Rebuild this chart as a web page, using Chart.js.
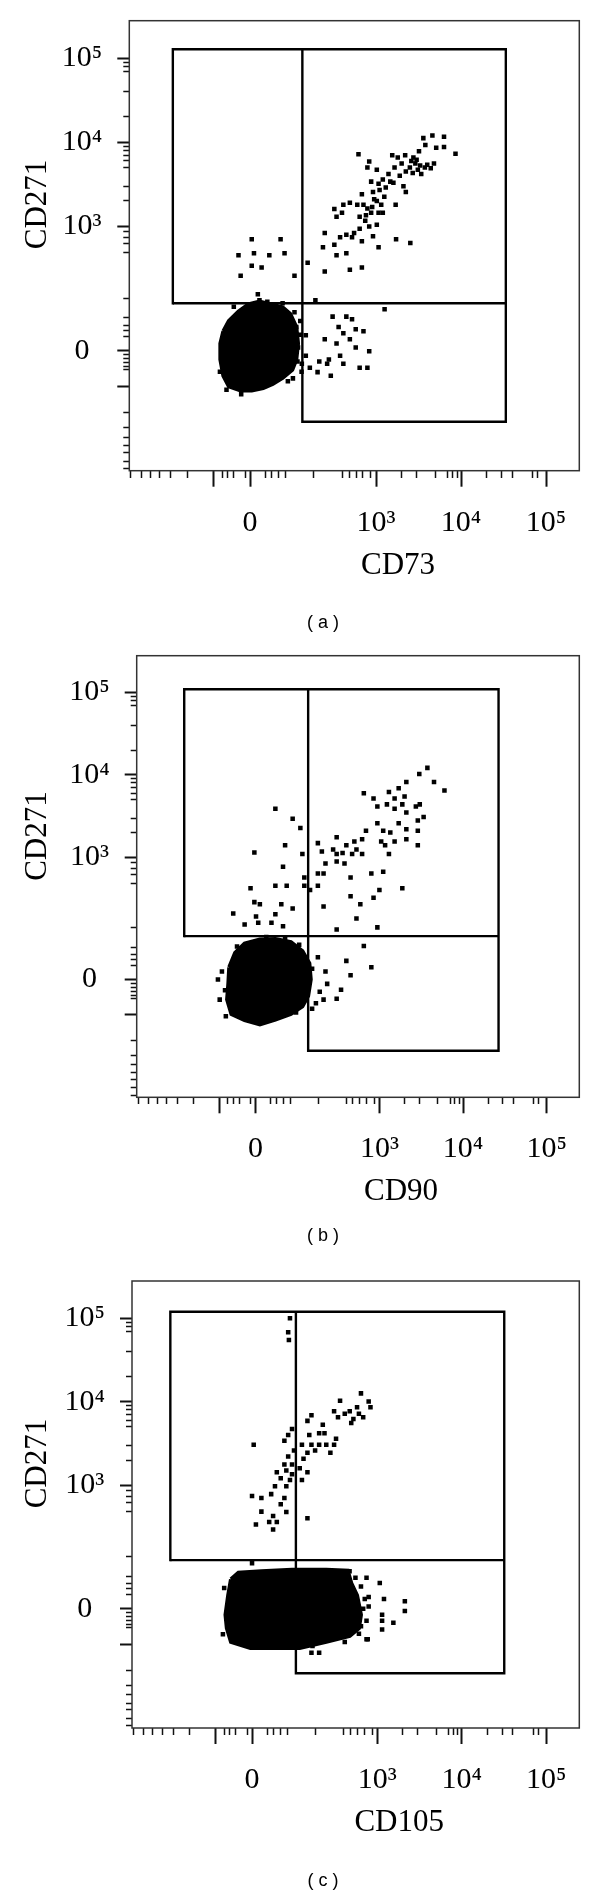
<!DOCTYPE html>
<html>
<head>
<meta charset="utf-8">
<script src="https://cdn.jsdelivr.net/npm/chart.js@4.4.1/dist/chart.umd.min.js"></script>
<style>
html,body{margin:0;padding:0;background:#fff;}
#wrap{position:relative;width:600px;height:1892px;background:#fff;}
canvas{position:absolute;left:0;}
</style>
</head>
<body>
<div id="wrap">
<canvas id="ca" width="600" height="640" style="top:0px"></canvas>
<canvas id="cb" width="600" height="620" style="top:640px"></canvas>
<canvas id="cc" width="600" height="632" style="top:1260px"></canvas>
</div>
<script>
// ---------------- axis definition (biexponential display) ----------------
const xRange = [-867, 245700];
const yRange = [-884, 280000];
const labelValues = [0, 1000, 10000, 100000];
const labelTexts = ['0', '10³', '10⁴', '10⁵'];
const xLongTicks = [-76, 0, 1000, 10000, 100000];
const xMinorTicks = [-830, -630, -490, -380, -277, -174, -55, -43, -30, -9, 28, 41, 56, 74, 180, 400, 480, 580, 700, 870, 2000, 3000, 5000, 7000, 8000, 9000, 20000, 30000, 40000, 70000, 80000];
const yLongTicks = [-76, 0, 1000, 10000, 100000];
const yMinorTicks = [-830, -677, -534, -444, -352, -269, -174, -36, -30, -22, -14, -7, 26, 39, 50, 68, 132, 485, 620, 740, 870, 2000, 3000, 5000, 6000, 7000, 8000, 9000, 20000, 40000, 70000, 80000, 90000];

// ---------------- titles ----------------
const xTitles = ['CD73', 'CD90', 'CD105'];
const yTitles = ['CD271', 'CD271', 'CD271'];
const captions = ['( a )', '( b )', '( c )'];

// ---------------- panel (a) CD73 vs CD271 ----------------
const a_events = [
[4600,12000],[6300,11600],[6300,8800],[8600,7300],[5100,8600],[3600,11200],[3800,9300],[3200,7800],[2750,6600],[2200,7000],
[1800,6600],[1550,7000],[2900,5600],[2500,5000],[2000,5600],[3750,5000],[4400,4900],[3400,4200],[2240,4500],[1900,4000],
[1650,5000],[1400,4200],[1200,3600],[1020,4700],[790,5000],[830,5900],[620,7200],[1470,3400],[2100,3000],[2240,2550],
[1700,1800],[1070,3200],[920,2550],[875,3400],[680,2400],[710,1800],[1020,2000],[1070,1450],[875,1450],[745,1160],
[600,1800],[490,1900],[410,1800],[320,1600],[340,1300],[395,1450],[830,990],[1020,1040],[1200,1450],[640,930],
[550,830],[445,790],[375,740],[680,660],[920,760],[520,740],[640,1300],[790,1630],[1070,560],[1720,700],
[2530,630],[445,475],[680,320],[490,300],[320,600],[245,830],[233,560],[245,285],[150,365],[340,450],
[2600,6000],[3000,6200],[3300,5300],[4000,5400],[4800,5600],[2700,4300],[3100,4700],[1600,3300],[1300,2900],[1100,2700],
[1250,2250],[950,2100],[1150,1800],[900,1700],[760,1350],
[3,700],[61,700],[-21,450],[7,475],[36,450],[71,475],[21,320],[-17,253],[100,253],[3,335],[14,148],[17,123],[188,123],
[305,71],[445,71],[1260,92],[360,46],[410,33],[575,41],[710,37],[490,21],[245,21],[340,13],[575,6],[830,-1],[375,-9],
[275,-16],[210,-20],[410,-24],[640,-32],[790,-32],[200,-41],[290,-49],[142,29],[142,-9],[126,-24],[160,-32],[106,46],
[112,6],[520,64],[262,-24],[-16,-99],[120,60],[125,-40],[95,-55],
[32,118],[66,112],[100,83],[-30,100],[-60,-40],[-45,-85],[80,-62],[110,-20],[118,30]
];
const a_core = [[-52,37],[-40,60],[-21,85],[-3,108],[17,118],[40,108],[66,98],[87,78],[106,46],[112,13],[106,-16],[93,-36],[66,-54],[43,-69],[24,-80],[3,-87],[-17,-87],[-40,-75],[-52,-49],[-59,-16],[-59,13],[-52,37]];
const a_gateX = [-263, 128, 33600];
const a_gateY = [-227, 112, 128000];

// ---------------- panel (b) CD90 vs CD271 ----------------
const b_events = [
[3750,12200],[3000,10300],[4500,8200],[6000,6500],[2100,8200],[1700,6900],[1300,6200],[650,6000],[850,5200],[1520,5200],
[2000,5500],[945,4150],[1230,4400],[1520,3900],[1880,4400],[2100,3500],[2730,4150],[3040,4400],[3380,3100],[2880,2800],
[2880,2100],[2880,1400],[2100,2200],[1700,2600],[1350,2000],[1110,2100],[945,2600],[1050,1560],[1520,1560],[2100,1660],
[1170,1400],[1300,1100],[690,2100],[620,1660],[500,1560],[400,1400],[305,1760],[276,1250],[360,1130],[470,1100],
[530,1250],[620,1100],[305,890],[380,840],[222,840],[210,635],[178,1490],[178,635],[200,1180],[305,1100],
[450,570],[800,635],[1110,670],[1000,400],[850,320],[1880,420],[450,335],[590,266],[530,176],[945,134],
[305,125],[178,450],[141,400],[210,250],[650,71],[400,36],[800,23],[450,8],[345,-19],[305,-37],
[38,3900],[80,2950],[104,2270],[-2,1150],[60,1400],[55,770],[111,1100],[118,570],[118,450],[38,450],[64,450],[-9,420],
[-2,283],[8,266],[51,266],[80,236],[-43,203],[1,186],[-20,146],[5,155],[30,155],[38,199],[55,139],
[178,44],[222,15],[188,-23],[168,-47],[210,-39],[233,-8],[-81,0],[-76,-39],[-70,15],[150,-60],[-60,-80],
[20,98],[60,96],[100,75],[150,20],[-35,70],[-62,-20],[90,-70]
];
const b_core = [[-52,23],[-39,54],[-20,78],[8,90],[38,92],[75,82],[111,58],[138,31],[144,0],[133,-31],[111,-54],[75,-74],[38,-90],[8,-106],[-20,-92],[-47,-74],[-57,-39],[-54,-7],[-52,23]];
const b_gateX = [-230, 133, 26600];
const b_gateY = [-237, 101, 109500];

// ---------------- panel (c) CD105 vs CD271 ----------------
const c_events = [
[81,100000],[76,68000],[78,55000],
[640,12600],[360,10300],[790,10100],[830,8600],[575,8600],[470,7700],[305,7700],[340,6500],[520,6200],[680,6500],[490,5550],
[160,6900],[142,5900],[222,5300],[322,3600],[233,4200],[150,4000],[87,4700],[76,4000],[66,3400],[3,3050],[120,3050],
[160,3050],[200,3050],[245,3050],[275,2450],[178,2600],[142,2450],[126,2080],[93,2600],[76,2200],[66,1770],[87,1770],
[112,1600],[142,1430],[71,1500],[87,1350],[48,1430],[57,1210],[81,1150],[120,1150],[71,970],[44,970],[36,780],[66,700],
[57,590],[17,700],[0,740],[17,480],[71,475],[40,425],[32,360],[48,360],[7,335],[40,290],[142,400],[410,7200],[605,7200],
[305,3050],[200,4200],
[0,107],[160,-101],[745,-62],[745,64],[1070,51],[790,22],[1200,18],[2120,14],[2120,-4],[1140,-11],[1140,-22],[1550,-26],
[1140,-40],[680,0],[790,4],[640,-33],[770,-62],
[468,81],[550,64],[640,43],[710,18],[745,-22],[605,-49],[410,-69],[165,-80],[200,-101],[-55,40],[-58,-50]
];
const c_core = [[-40,60],[-25,77],[17,81],[87,86],[245,86],[445,83],[490,51],[575,25],[640,-11],[605,-37],[470,-54],[245,-69],[112,-86],[48,-86],[-3,-86],[-40,-69],[-49,-37],[-52,-11],[-46,25],[-40,60]];
const c_gateX = [-302, 99, 31800];
const c_gateY = [-190, 118, 120000];

// ---------------- custom biexponential (asinh) scale ----------------
const COF = 66;
const tf = v => Math.asinh(v / COF) / Math.LN10;
const itf = t => COF * Math.sinh(t * Math.LN10);
class BiexScale extends Chart.Scale {
  determineDataLimits() { this.min = this.options.min; this.max = this.options.max; }
  buildTicks() { return []; }
  configure() { super.configure(); this._t0 = tf(this.min); this._t1 = tf(this.max); }
  getLabelForValue(v) { return String(v); }
  getPixelForValue(v) { return this.getPixelForDecimal((tf(v) - this._t0) / (this._t1 - this._t0)); }
  getValueForPixel(p) { return itf(this._t0 + this.getDecimalForPixel(p) * (this._t1 - this._t0)); }
  getPadding() { return {left: 0, right: 0, top: 0, bottom: 0}; }
}
BiexScale.id = 'biex';
BiexScale.defaults = {};
Chart.register(BiexScale);

const SERIF = "'Liberation Serif', 'Times New Roman', serif";

const decor = {
  id: 'decor',
  afterDraw(chart, args, o) {
    const {ctx, chartArea: a} = chart;
    const x = chart.scales.x, y = chart.scales.y;
    ctx.save();
    ctx.strokeStyle = '#333';
    ctx.lineWidth = 1.5;
    ctx.strokeRect(a.left, a.top, a.right - a.left, a.bottom - a.top);
    ctx.fillStyle = '#000';
    ctx.textAlign = 'center';
    ctx.textBaseline = 'middle';
    ctx.font = '31px ' + SERIF;
    const xm = (x.getPixelForValue(labelValues[0]) + x.getPixelForValue(labelValues[3])) / 2;
    ctx.fillText(o.xTitle, xm, a.bottom + o.xTitleGap);
    const ym = (y.getPixelForValue(labelValues[0]) + y.getPixelForValue(labelValues[3])) / 2;
    ctx.save();
    ctx.translate(o.yTitleX, ym);
    ctx.rotate(-Math.PI / 2);
    ctx.fillText(o.yTitle, 0, 0);
    ctx.restore();
    ctx.font = "18px 'Liberation Sans', Arial, sans-serif";
    ctx.fillText(o.caption, o.captionX, o.captionY);
    ctx.restore();
  }
};

function toPts(arr) { return arr.map(p => ({x: p[0], y: p[1]})); }

function axis(pos, range, longTicks, minorTicks, tl, minorLen, pad, fitFn) {
  const isLong = v => longTicks.indexOf(v) >= 0;
  const dash = pos === 'bottom' ? [minorLen, 200] : [0, tl - minorLen, minorLen, 200];
  return {
    type: 'biex', position: pos, min: range[0], max: range[1],
    afterBuildTicks: s => { s.ticks = longTicks.concat(minorTicks).sort((p, q) => p - q).map(v => ({value: v})); },
    afterFit: fitFn,
    border: {display: false},
    grid: {
      display: true, drawOnChartArea: false, drawTicks: true, tickLength: tl,
      tickColor: '#111',
      tickWidth: c => (c.tick && isLong(c.tick.value)) ? 2 : 1.5,
      tickBorderDash: c => (c.tick && isLong(c.tick.value)) ? [] : dash
    },
    ticks: {
      autoSkip: false, maxRotation: 0, minRotation: 0, padding: pad, color: '#000',
      crossAlign: pos === 'left' ? 'center' : 'near',
      font: {family: SERIF, size: 30, lineHeight: 1},
      callback: v => { const i = labelValues.indexOf(v); return i >= 0 ? labelTexts[i] : ''; }
    },
    title: {display: false}
  };
}

function makePanel(canvasId, H, area, events, core, gx, gy, idx, captionY) {
  const [L, M, R] = gx;
  const [B, Hh, T] = gy;
  const outline = [[L, Hh], [L, T], [R, T], [R, B], [M, B], [M, T]];
  const divider = [[L, Hh], [R, Hh]];
  new Chart(document.getElementById(canvasId), {
    type: 'scatter',
    data: {
      datasets: [
        {type: 'line', data: toPts(outline), borderColor: '#000', borderWidth: 2.4, pointRadius: 0, fill: false, tension: 0, borderJoinStyle: 'miter', borderCapStyle: 'square'},
        {type: 'line', data: toPts(divider), borderColor: '#000', borderWidth: 2.4, pointRadius: 0, fill: false, tension: 0},
        {type: 'scatter', data: toPts(events), pointStyle: 'rect', pointRadius: 3.2, backgroundColor: '#000', borderWidth: 0},
        {type: 'line', data: toPts(core), borderColor: '#000', backgroundColor: '#000', borderWidth: 4, pointRadius: 0, fill: 'shape', tension: 0, borderJoinStyle: 'miter'}
      ]
    },
    options: {
      responsive: false, maintainAspectRatio: false, animation: false, devicePixelRatio: 1, events: [],
      layout: {padding: {left: 0, top: area[1], right: 600 - area[2], bottom: 0}},
      scales: {
        x: axis('bottom', xRange, xLongTicks, xMinorTicks, 16, 7, 21, s => { s.height = H - area[3]; }),
        y: axis('left', yRange, yLongTicks, yMinorTicks, 12, 6, 15, s => { s.width = area[0]; })
      },
      plugins: {
        legend: {display: false}, tooltip: {enabled: false},
        decor: {xTitle: xTitles[idx], yTitle: yTitles[idx], caption: captions[idx], xTitleGap: 95, yTitleX: 37.5, captionX: 323, captionY: captionY}
      }
    },
    plugins: [decor]
  });
}

makePanel('ca', 640, [129.3, 20.7, 579.3, 470.7], a_events, a_core, a_gateX, a_gateY, 0, 623);
makePanel('cb', 620, [136.7, 15.7, 579.3, 457.3], b_events, b_core, b_gateX, b_gateY, 1, 596);
makePanel('cc', 632, [132, 21, 579.3, 468], c_events, c_core, c_gateX, c_gateY, 2, 621);
</script>
</body>
</html>
